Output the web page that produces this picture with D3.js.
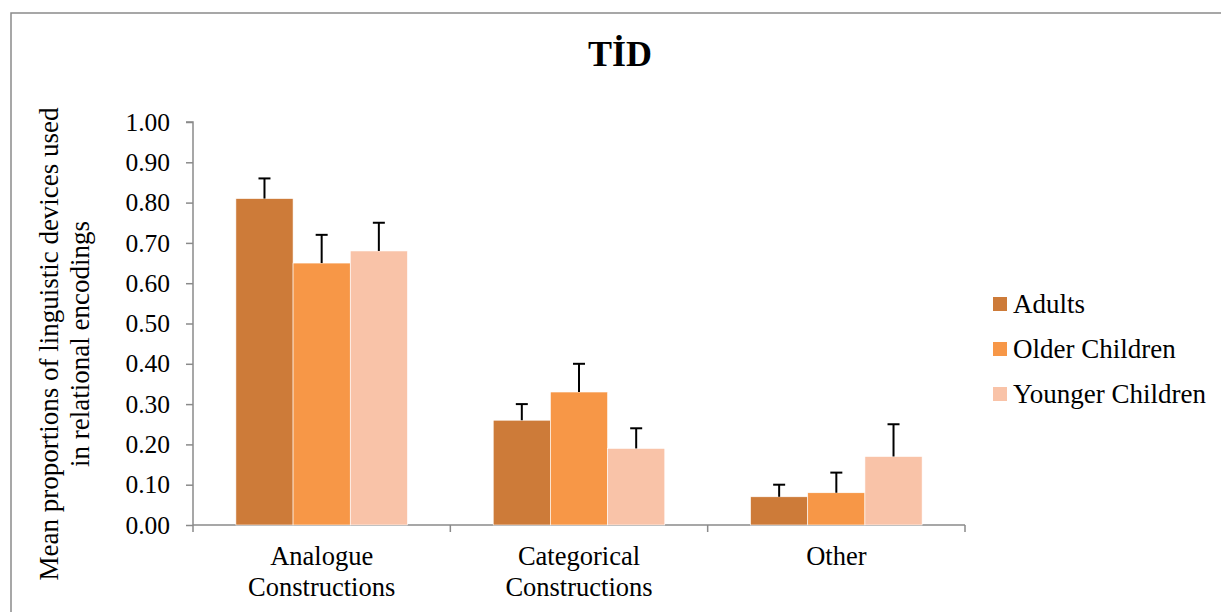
<!DOCTYPE html>
<html><head><meta charset="utf-8">
<script src="https://cdn.jsdelivr.net/npm/d3@7"></script>
<style>body{margin:0;background:#fff}svg{display:block}text{font-family:"Liberation Serif","Times New Roman",serif;fill:#000}</style>
</head><body>
<script>
const categories = [["Analogue","Constructions"],["Categorical","Constructions"],["Other"]];
const seriesNames = ["Adults","Older Children","Younger Children"];
const adults = [0.81, 0.26, 0.07];
const olderChildren = [0.65, 0.33, 0.08];
const youngerChildren = [0.68, 0.19, 0.17];
const adultsErr = [0.05, 0.04, 0.03];
const olderErr = [0.07, 0.07, 0.05];
const youngerErr = [0.07, 0.05, 0.08];
const yTicks = [0,0.1,0.2,0.3,0.4,0.5,0.6,0.7,0.8,0.9,1.0];
const colors = ["#CD7B39","#F79747","#F9C3A8"];

const W=1221,H=612;
const svg=d3.select("body").append("svg").attr("width",W).attr("height",H);
svg.append("rect").attr("x",11).attr("y",13).attr("width",1300).attr("height",700)
  .attr("fill","none").attr("stroke","#8a8a8a").attr("stroke-width",1.5);

const x0=193,x1=965,yTop=122,yBot=525;
const catIdx=[0,1,2];
const x=d3.scaleBand().domain(catIdx).range([x0,x1]).paddingInner(0).paddingOuter(0);
const inner=d3.scaleBand().domain([0,1,2]).range([0,x.bandwidth()]).paddingOuter(0.75).paddingInner(0);
const y=d3.scaleLinear().domain([0,1]).range([yBot,yTop]);

svg.append("text").attr("x",620).attr("y",66).attr("text-anchor","middle")
  .style("font-size","36px").style("font-weight","bold").text("TİD");

// y axis
const ya=svg.append("g").attr("transform",`translate(${x0},0)`)
  .call(d3.axisLeft(y).tickValues(yTicks).tickFormat(d3.format(".2f")).tickSize(7).tickPadding(16));
ya.select(".domain").attr("stroke","#8a8a8a").attr("stroke-width",1.5).attr("d",`M-7,${yTop}H0V${yBot}`);
ya.selectAll(".tick line").attr("stroke","#8a8a8a").attr("stroke-width",1.5);
ya.selectAll(".tick text").style("font-size","25.5px").style("font-family","Liberation Serif").attr("fill","#000");

// x axis
const xa=svg.append("g").attr("transform",`translate(0,${yBot})`);
xa.append("line").attr("x1",x0).attr("x2",x1).attr("y1",0).attr("y2",0).attr("stroke","#8a8a8a").attr("stroke-width",1.5);
[0,1,2,3].forEach(i=>{
  const xx = i<3 ? x(i) : x1;
  xa.append("line").attr("x1",xx).attr("x2",xx).attr("y1",0).attr("y2",7).attr("stroke","#8a8a8a").attr("stroke-width",1.5);
});
categories.forEach((lines,i)=>{
  const t=svg.append("text").attr("x",x(i)+x.bandwidth()/2).attr("y",565).attr("text-anchor","middle").style("font-size","26.5px");
  lines.forEach((l,j)=>t.append("tspan").attr("x",x(i)+x.bandwidth()/2).attr("dy",j?31:0).text(l));
});

// bars
const series=[adults,olderChildren,youngerChildren];
const errs=[adultsErr,olderErr,youngerErr];
series.forEach((vals,s)=>{
  const g=svg.append("g");
  vals.forEach((v,i)=>{
    const bx=x(i)+inner(s), bw=inner.bandwidth();
    g.append("rect").attr("x",bx).attr("y",y(v)).attr("width",bw).attr("height",y(0)-y(v))
      .attr("fill",colors[s]).attr("stroke","#fff").attr("stroke-width",0.6);
  });
});
series.forEach((vals,s)=>{
  vals.forEach((v,i)=>{
    const cx=x(i)+inner(s)+inner.bandwidth()/2;
    const e=v+errs[s][i];
    svg.append("line").attr("x1",cx).attr("x2",cx).attr("y1",y(v)).attr("y2",y(e)).attr("stroke","#000").attr("stroke-width",2);
    svg.append("line").attr("x1",cx-6).attr("x2",cx+6).attr("y1",y(e)).attr("y2",y(e)).attr("stroke","#000").attr("stroke-width",2);
  });
});

// y title
const yt=svg.append("text").attr("transform","translate(58,344) rotate(-90)").attr("text-anchor","middle").style("font-size","27px");
yt.append("tspan").attr("x",0).attr("dy",0).text("Mean proportions of linguistic devices used");
yt.append("tspan").attr("x",0).attr("dy",31).text("in relational encodings");

// legend
seriesNames.forEach((n,i)=>{
  const ly=304+i*45;
  svg.append("rect").attr("x",993).attr("y",ly-7).attr("width",14).attr("height",14).attr("fill",colors[i]);
  svg.append("text").attr("x",1013).attr("y",ly+9).style("font-size","27px").text(n);
});
</script>
</body></html>
